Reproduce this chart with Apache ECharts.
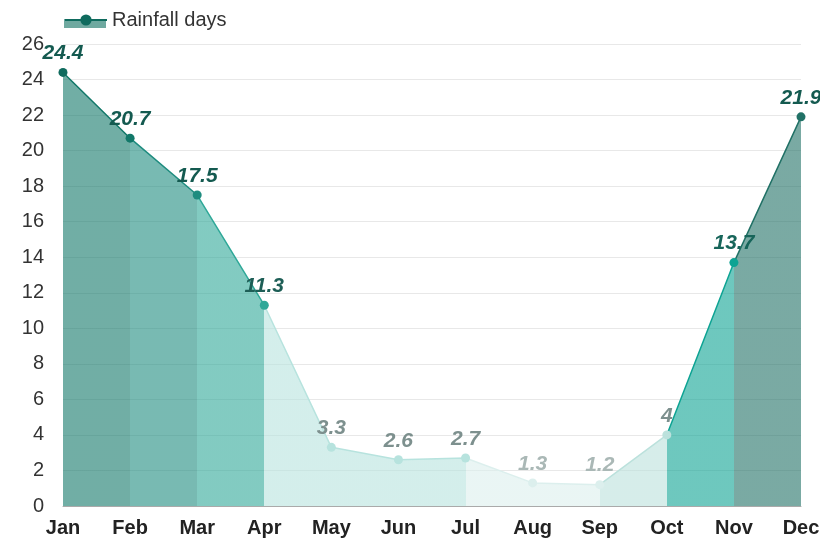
<!DOCTYPE html>
<html>
<head>
<meta charset="utf-8">
<script src="https://cdn.jsdelivr.net/npm/echarts@6/dist/echarts.min.js"></script>
<style>html,body{margin:0;padding:0;background:#fff}#c{width:820px;height:545px}</style>
</head>
<body>
<div id="c"></div>
<script>
var months = ['Jan','Feb','Mar','Apr','May','Jun','Jul','Aug','Sep','Oct','Nov','Dec'];
var rainfallDays = [24.4, 20.7, 17.5, 11.3, 3.3, 2.6, 2.7, 1.3, 1.2, 4, 13.7, 21.9];
var yTicks = [0, 26, 2];
// colour of segment ending at each month (and of that month's marker)
var segColors = ['#0f6b5e','#127869','#1e8c7f','#2fa898','#b7e3de','#b7e3de','#b7e3de','#dcefed','#dcefed','#bbe1dc','#0da393','#217166'];
var labelColors = ['#145a50','#145a50','#145a50','#1d5e56','#7d908e','#7d908e','#7d908e','#aab8b6','#aab8b6','#7d908e','#17655a','#145a50'];

var FONT = '"Liberation Sans", Arial, sans-serif';
var data = rainfallDays.map(function(v, i){
  return {value: v, label: {color: labelColors[i]}};
});
var pieces = segColors.map(function(c, i){
  return i === 0 ? {lte: 0, color: c} : {gt: i - 1, lte: i, color: c};
});

var chart = echarts.init(document.getElementById('c'));
chart.setOption({
  animation: false,
  grid: {left: 63, right: 19, top: 44, bottom: 39, outerBoundsMode: 'none', containLabel: false},
  graphic: [{
    type: 'rect', left: 64, top: 19, z: -1,
    shape: {width: 42, height: 9},
    style: {fill: '#6fa9a0'}
  }],
  legend: {
    left: 59, top: 5,
    itemWidth: 42, itemHeight: 14,
    textStyle: {fontSize: 20, color: '#333', fontFamily: FONT},
    data: [{name: 'Rainfall days', itemStyle: {color: '#0f6b5e'}, lineStyle: {color: '#0f6b5e'}}]
  },
  visualMap: {
    show: false, type: 'piecewise', dimension: 0, seriesIndex: 0,
    pieces: pieces
  },
  xAxis: {
    type: 'category', data: months, boundaryGap: false,
    axisLine: {lineStyle: {color: '#aaa'}},
    axisTick: {show: false},
    axisLabel: {fontSize: 20, fontWeight: 'bold', color: '#222', fontFamily: FONT, margin: 12}
  },
  yAxis: {
    type: 'value', min: yTicks[0], max: yTicks[1], interval: yTicks[2],
    axisLabel: {fontSize: 20, color: '#333', fontFamily: FONT, margin: 19},
    splitLine: {lineStyle: {color: '#e8e8e8'}}
  },
  series: [{
    name: 'Rainfall days', type: 'line', data: data,
    symbol: 'circle', symbolSize: 9,
    lineStyle: {width: 1.5},
    areaStyle: {opacity: 0.6},
    label: {show: true, position: 'top', distance: 4, fontSize: 21, fontWeight: 'bold', fontStyle: 'italic', fontFamily: FONT}
  }]
});
</script>
</body>
</html>
